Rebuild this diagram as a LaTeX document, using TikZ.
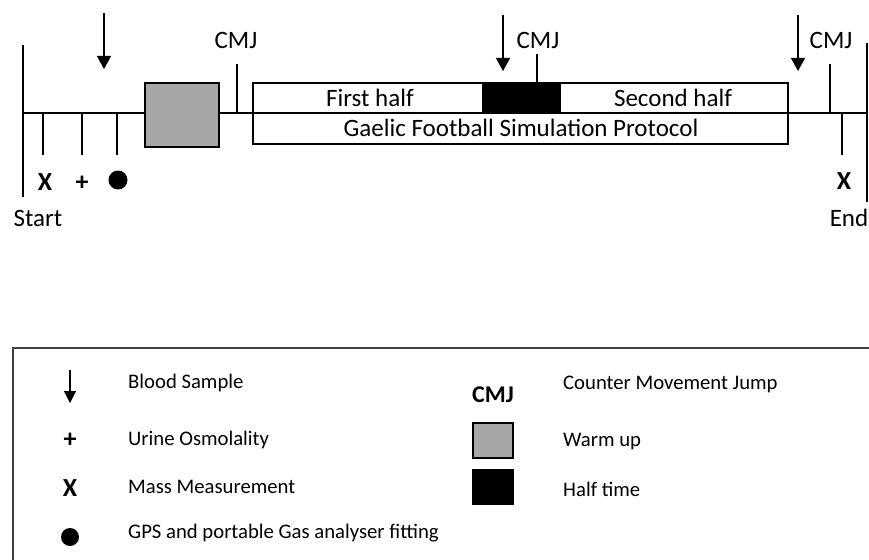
\documentclass[tikz,border=0pt]{standalone}
\usepackage{fontspec}
\setmainfont{Carlito}
\usetikzlibrary{arrows.meta}
\definecolor{warmgrey}{HTML}{A6A6A6}
\definecolor{framegrey}{HTML}{404040}
\begin{document}
\begin{tikzpicture}[x=1pt,y=-1pt,
  ln/.style={line width=1.2pt},
  arr/.style={-{Triangle[width=14pt,length=13pt]}, line width=1.2pt},
  lbl/.style={font=\fontsize{25}{28}\selectfont, inner sep=0pt},
  leg/.style={font=\fontsize{20.7}{24}\selectfont, inner sep=0pt, anchor=west},
  sym/.style={font=\bfseries\fontsize{26}{28}\selectfont, inner sep=0pt},
  cmj/.style={font=\fontsize{25}{28}\selectfont, inner sep=0pt},
  boxn/.style={draw, line width=1.2pt, inner sep=0pt, minimum width=#1},
]
\useasboundingbox (0,0) rectangle (869,559);

% main timeline
\coordinate (s0) at (23,113);
\coordinate (e0) at (867,113);
\draw[ln] (s0) -- (e0);

% start / end lines
\coordinate (st1) at (23,45); \coordinate (st2) at (23,197);
\coordinate (en1) at (867,43); \coordinate (en2) at (867,202);
\draw[ln] (st1) -- (st2);
\draw[ln] (en1) -- (en2);
\node[lbl] (start) at (38,218) {Start};
\node[lbl] (end) at (849,218) {End};

% ticks below line
\foreach \x/\n in {43/ta,82/tb,117/tc,842/td}{
  \coordinate (\n1) at (\x,113); \coordinate (\n2) at (\x,155);
  \draw[ln] (\n1) -- (\n2);
}
\node[sym] (xa) at (45,182) {X};
\node[sym] (pa) at (82,183) {+};
\node[circle, fill=black, minimum size=19pt, inner sep=0pt] (da) at (118,180) {};
\node[sym] (xb) at (844,181) {X};

% warm up box
\node[boxn=74pt, minimum height=64pt, fill=warmgrey] (warm) at (182,115) {};

% protocol box
\node[boxn=535pt, minimum height=61pt, fill=white] (proto) at (520.5,113.5) {};
\coordinate (pl) at (253,113); \coordinate (pr) at (788,113);
\draw[ln] (pl) -- (pr);
\node[boxn=77pt, minimum height=30pt, fill=black] (half) at (521.5,98) {};
\node[lbl] (first) at (370,98) {First half};
\node[lbl] (second) at (673,98) {Second half};
\node[lbl] (gfsp) at (521,128) {Gaelic Football Simulation Protocol};

% CMJ ticks and labels
\coordinate (c1a) at (237,64); \coordinate (c1b) at (237,113);
\draw[ln] (c1a) -- (c1b);
\node[cmj] (cmj1) at (236,40) {CMJ};
\coordinate (c2a) at (537,54); \coordinate (c2b) at (537,83);
\draw[ln] (c2a) -- (c2b);
\node[cmj] (cmj2) at (538,40) {CMJ};
\coordinate (c3a) at (830,64); \coordinate (c3b) at (830,113);
\draw[ln] (c3a) -- (c3b);
\node[cmj] (cmj3) at (831,40) {CMJ};

% blood sample arrows
\coordinate (a1a) at (104,13); \coordinate (a1b) at (104,69);
\draw[arr] (a1a) -- (a1b);
\coordinate (a2a) at (503,15); \coordinate (a2b) at (503,71);
\draw[arr] (a2a) -- (a2b);
\coordinate (a3a) at (798,15); \coordinate (a3b) at (798,71);
\draw[arr] (a3a) -- (a3b);

% legend frame (extends past the right and bottom edges)
\begin{scope}
\clip (0,0) rectangle (869,559);
\coordinate (lf1) at (13,348); \coordinate (lf2) at (890,580);
\draw[line width=1.4pt, framegrey] (lf1) rectangle (lf2);
\end{scope}

% legend entries
\coordinate (la) at (70,370); \coordinate (lb) at (70,403);
\draw[arr, -{Triangle[width=12pt,length=12pt]}] (la) -- (lb);
\node[leg] (lblood) at (128,383) {Blood Sample};
\node[sym] (lplus) at (70,440) {+};
\node[leg] (lurine) at (128,440) {Urine Osmolality};
\node[sym] (lx) at (70,488) {X};
\node[leg] (lmass) at (128,487) {Mass Measurement};
\node[circle, fill=black, minimum size=18pt, inner sep=0pt] (ldot) at (70,537) {};
\node[leg] (lgps) at (128,533) {GPS and portable Gas analyser fitting};

\node[font=\bfseries\fontsize{24}{27}\selectfont, inner sep=0pt] (lcmj) at (493,395) {CMJ};
\node[leg] (lcounter) at (563,384) {Counter Movement Jump};
\node[boxn=40pt, minimum height=35pt, fill=warmgrey] (lwarm) at (493,440.5) {};
\node[leg] (lwarmt) at (563,442) {Warm up};
\node[boxn=40pt, minimum height=34pt, fill=black] (lhalf) at (493,487) {};
\node[leg] (lhalft) at (563,489) {Half time};
\end{tikzpicture}
\end{document}
